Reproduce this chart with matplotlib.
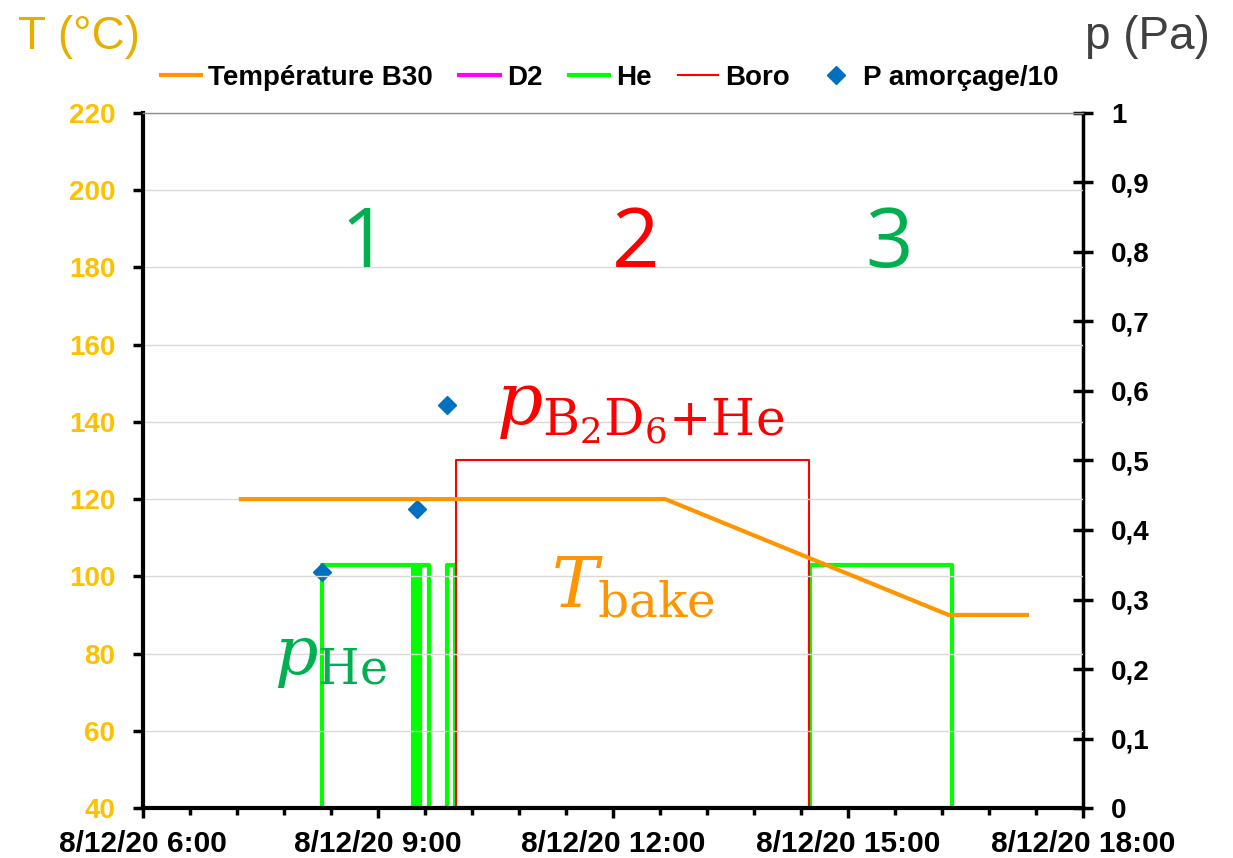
import matplotlib
matplotlib.use("Agg")
import matplotlib.pyplot as plt
import matplotlib.dates as mdates
from matplotlib.ticker import MultipleLocator, FixedLocator, FuncFormatter
import pandas as pd

# ---- data (8 December 2020) ----
day = "2020-12-08"

temp_time = ["07:15", "12:40", "16:17", "17:17"]
temp_val = [120, 120, 90, 90]

d2_time = []
d2_val = []

he_time = ["08:17", "08:17", "09:27", "09:27", "09:27:40", "09:27:40",
           "09:28:20", "09:28:20", "09:29", "09:29", "09:29:40", "09:29:40",
           "09:30:20", "09:30:20", "09:32", "09:32", "09:32:20", "09:32:20",
           "09:39", "09:39", "09:53", "09:53", "09:59", "09:59",
           "14:31", "14:31", "16:20", "16:20"]
he_val = [0, 0.35, 0.35, 0, 0, 0.35,
          0.35, 0, 0, 0.35, 0.35, 0,
          0, 0.35, 0.35, 0, 0, 0.35,
          0.35, 0, 0, 0.35, 0.35, 0,
          0, 0.35, 0.35, 0]

boro_time = ["10:00", "10:00", "14:30", "14:30"]
boro_val = [0, 0.5, 0.5, 0]

pamorc_time = ["08:17", "09:30", "09:53"]
pamorc_val = [0.34, 0.43, 0.58]

temp_ticks = list(range(40, 221, 20))
p_ticks = [round(0.1 * i, 1) for i in range(11)]
x_start, x_end = "06:00", "18:00"


def ts(times):
    return pd.to_datetime([f"{day} {t}" for t in times], format="mixed")


# ---- figure ----
W, H = 1233, 858
fig = plt.figure(figsize=(W / 100, H / 100), dpi=100)
fig.patch.set_facecolor("white")
plt.rcParams["mathtext.fontset"] = "dejavuserif"

ax = fig.add_axes([143 / W, 1 - 808 / H, (1083 - 143) / W, (808 - 113) / H])
ax2 = ax.twinx()
ax.set_zorder(ax2.get_zorder() + 1)
ax.patch.set_visible(False)

# pressure series (right axis)
l_d2, = ax2.plot(ts(d2_time) if d2_time else [], d2_val, color="#FF00FF", lw=3, label="D2")
l_he, = ax2.plot(ts(he_time), he_val, color="#00FF00", lw=3, label="He", zorder=2)
l_bo, = ax2.plot(ts(boro_time), boro_val, color="#FF0000", lw=1.5, label="Boro", zorder=3)
l_pa, = ax2.plot(ts(pamorc_time), pamorc_val, ls="none", marker="D", ms=9,
                 color="#0070C0", label="P amorçage/10", zorder=4)

# temperature (left axis)
l_t, = ax.plot(ts(temp_time), temp_val, color="#FF9500", lw=3,
               label="Température B30", zorder=5)

# ---- axes limits and ticks ----
xlim = ts([x_start, x_end])
ax.set_xlim(xlim[0], xlim[1])
ax.set_ylim(40, 220)
ax2.set_ylim(0, 1)

ax.xaxis.set_major_locator(mdates.HourLocator(byhour=[6, 9, 12, 15, 18]))
ax.xaxis.set_minor_locator(MultipleLocator(0.025))


def fmt_date(v, pos):
    d = mdates.num2date(v)
    return f"{d.day}/{d.month}/{d:%y} {d.hour}:{d.minute:02d}"


ax.xaxis.set_major_formatter(FuncFormatter(fmt_date))
ax.yaxis.set_major_locator(FixedLocator(temp_ticks))
ax2.yaxis.set_major_locator(FixedLocator(p_ticks))


def fmt_p(v, pos):
    if abs(v) < 1e-9:
        return "0"
    if abs(v - 1) < 1e-9:
        return "1"
    return f"{v:.1f}".replace(".", ",")


ax2.yaxis.set_major_formatter(FuncFormatter(fmt_p))

ax.grid(axis="y", color="#D9D9D9", lw=1)
ax.grid(axis="x", visible=False)

font = "Liberation Sans"
ax.tick_params(axis="x", which="major", direction="out", length=7, width=2.5,
               pad=9, labelsize=21.5, colors="black")
ax.tick_params(axis="x", which="minor", direction="out", length=5, width=2.5)
ax.tick_params(axis="y", direction="out", length=7, width=2.5, pad=13,
               labelsize=20, labelcolor="#FFC000")
ax2.tick_params(axis="y", direction="inout", length=14, width=2.5, pad=13,
                labelsize=20, labelcolor="black")
for lab in ax.get_xticklabels() + ax.get_yticklabels() + ax2.get_yticklabels():
    lab.set_fontfamily(font)
    lab.set_fontweight("bold")

for s in ["left", "bottom"]:
    ax.spines[s].set_linewidth(3)
    ax.spines[s].set_color("black")
ax.spines["right"].set_visible(False)
ax.spines["top"].set_color("#8C8C8C")
ax.spines["top"].set_linewidth(1)
for s in ["left", "bottom", "top"]:
    ax2.spines[s].set_visible(False)
ax2.spines["right"].set_linewidth(2.5)
ax2.spines["right"].set_color("black")

# ---- legend ----
leg = ax.legend(handles=[l_t, l_d2, l_he, l_bo, l_pa], loc="center",
                bbox_to_anchor=(610 / W, 1 - 78 / H), bbox_transform=fig.transFigure,
                ncol=5, frameon=False, handlelength=1.45, handletextpad=0.25,
                columnspacing=0.95, prop={"family": font, "weight": "bold", "size": 20})

# ---- axis titles ----
fig.text(18 / W, 1 - 37 / H, "T (°C)", ha="left", va="center", fontsize=33,
         color="#E6AF00", family=font)
fig.text(1210 / W, 1 - 37 / H, "p (Pa)", ha="right", va="center", fontsize=33,
         color="#404040", family=font)

# ---- phase numbers ----
for xp, txt, col in [(364, "1", "#00B050"), (636, "2", "#FF0000"), (889, "3", "#00B050")]:
    fig.text(xp / W, 1 - 246 / H, txt, ha="center", va="center", fontsize=60,
             color=col, family="Open Sans")

# ---- curve annotations ----
fig.text(496 / W, 1 - 446 / H, r"$p_{\mathrm{B_2D_6{+}He}}$", ha="left", va="bottom",
         fontsize=52, color="#FF0000")
fig.text(551 / W, 1 - 622 / H, r"$T_{\mathrm{bake}}$", ha="left", va="bottom",
         fontsize=50, color="#FF9500")
fig.text(274 / W, 1 - 690 / H, r"$p_{\mathrm{He}}$", ha="left", va="bottom",
         fontsize=49, color="#00B050")

fig.savefig("out.png", dpi=100)
